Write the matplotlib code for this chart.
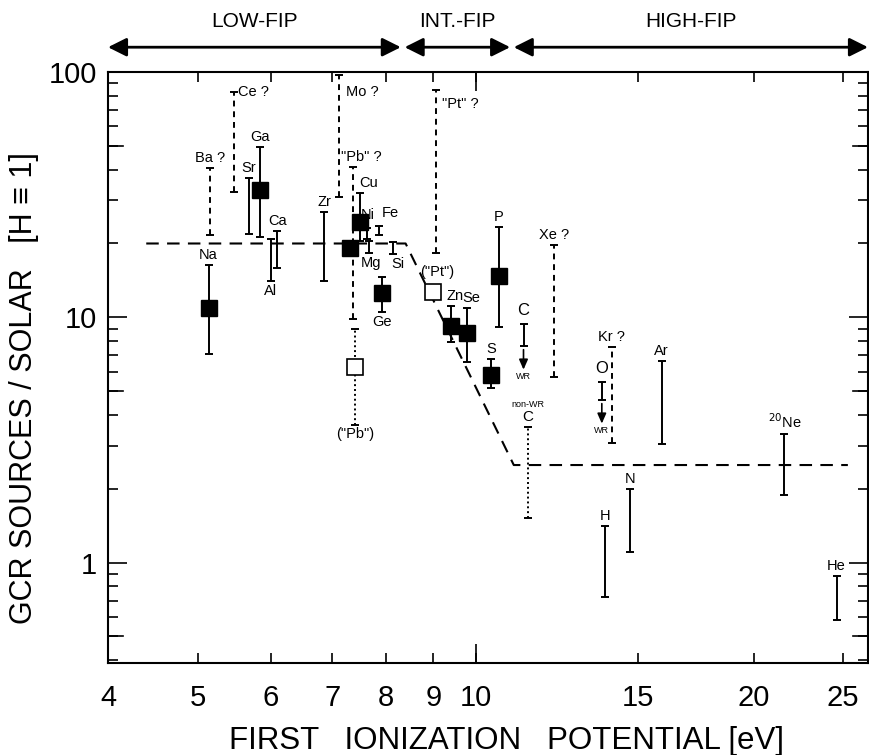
import numpy as np
import matplotlib
matplotlib.use("Agg")
import matplotlib.pyplot as plt
from matplotlib.ticker import FixedLocator, FixedFormatter, NullFormatter

plt.rcParams["font.family"] = ["Liberation Sans", "DejaVu Sans"]

# ---- data (FIP in eV, GCR source / solar) ----
# filled squares with error bars
sq_names = ["Na", "Ga", "Cu", "", "Ge", "Zn", "Se", "P", "S"]
sq_x  = [5.14, 5.85, 7.50, 7.32, 7.91, 9.40, 9.78, 10.6, 10.4]
sq_y  = [10.9, 33.0, 24.5, 19.2, 12.6, 9.2, 8.6, 14.8, 5.83]
sq_lo = [7.1, 21.3, 20.5, 19.2, 10.5, 7.9, 6.6, 9.15, 5.16]
sq_hi = [16.4, 49.5, 32.1, 19.2, 14.6, 11.1, 10.9, 23.4, 6.78]

# plain solid error bars
sol_names = ["Sr", "Al", "Ca", "Zr", "Ni", "Fe", "Mg", "Si", "Ar", "H", "N", "$^{20}$Ne", "He"]
sol_x  = [5.68, 6.00, 6.10, 6.86, 7.62, 7.87, 7.67, 8.15, 15.9, 13.8, 14.7, 21.6, 24.6]
sol_lo = [21.9, 14.1, 15.9, 14.1, 20.8, 21.7, 18.3, 18.1, 3.05, 0.727, 1.10, 1.89, 0.586]
sol_hi = [37.0, 20.9, 22.5, 26.9, 23.2, 23.6, 20.5, 20.3, 6.65, 1.415, 2.0, 3.35, 0.885]

# uncertain (dashed) ranges
dash_names = ["Ba ?", "Ce ?", "Mo ?", '"Pb" ?', '"Pt" ?', "Xe ?", "Kr ?"]
dash_x  = [5.16, 5.47, 7.12, 7.36, 9.05, 12.15, 14.04]
dash_lo = [21.7, 32.4, 31.0, 9.8, 18.3, 5.72, 3.08]
dash_hi = [40.6, 83.0, 97.0, 41.0, 84.5, 19.7, 7.6]

# open squares
open_names = ['("Pb")', '("Pt")']
open_x  = [7.41, 9.00]
open_y  = [6.3, 12.7]
open_lo = [3.65, 12.7]
open_hi = [9.0, 12.7]

# WR (Wolf-Rayet) corrected values
wr_names = ["C", "O"]
wr_x  = [11.27, 13.7]
wr_lo = [7.65, 4.61]
wr_hi = [9.4, 5.46]

# non-WR carbon (dotted)
nwr_x, nwr_lo, nwr_hi = 11.4, 1.52, 3.58

# FIP model line
model_x = [4.4, 8.4, 11.0, 25.3]
model_y = [20.0, 20.0, 2.5, 2.5]

# FIP bands on top
band_names = ["LOW-FIP", "INT.-FIP", "HIGH-FIP"]
band_lo = [4.0, 8.38, 11.0]
band_hi = [8.3, 10.9, 26.6]

xticks = [4, 5, 6, 7, 8, 9, 10, 15, 20, 25]

fig = plt.figure(figsize=(8.69, 7.55), dpi=100)
ax = fig.add_axes([0.1243, 0.1219, 0.8745, 0.7827])
ax.set_xscale("log")
ax.set_yscale("log")
ax.set_xlim(4, 26.6)
ax.set_ylim(0.39, 100)

lw = 1.4
fs = 10.5


def ebar(x, lo, hi, ls="-"):
    ax.plot([x, x], [lo, hi], color="k", lw=lw, ls=ls, solid_capstyle="butt")
    ax.plot([x, x], [lo, hi], ls="none", marker="_", ms=6, mew=lw, color="k")


def lab(txt, x, y, where, dx=0, dy=0, size=fs):
    if where == "a":
        off, ha, va = (dx, 2 + dy), "center", "bottom"
    elif where == "b":
        off, ha, va = (dx, -2 + dy), "center", "top"
    else:
        off, ha, va = (3 + dx, dy), "left", "center"
    ax.annotate(txt, (x, y), xytext=off, textcoords="offset points",
                ha=ha, va=va, fontsize=size)


# model
ax.plot(model_x, model_y, color="k", lw=1.5, ls=(0, (6, 4)))

# solid bars
sol_pos = ["a", "b", "a", "a", "a", "a", "b", "b", "a", "a", "a", "a", "a"]
sol_dx = {"Fe": 8, "Mg": 1, "Si": 3, "Ni": 1}
for n, x, lo, hi, p in zip(sol_names, sol_x, sol_lo, sol_hi, sol_pos):
    ebar(x, lo, hi)
    lab(n, x, hi if p == "a" else lo, p, dx=sol_dx.get(n, 0),
        dy=2 if n in ("Ni", "Fe") else 0)

# dashed bars
dash_pos = ["a", "r", "r", "a", "r", "a", "a"]
dash_off = {"Mo ?": (2, -12), '"Pt" ?': (2, -10), '"Pb" ?': (6, 0)}
for n, x, lo, hi, p in zip(dash_names, dash_x, dash_lo, dash_hi, dash_pos):
    ebar(x, lo, hi, ls=(0, (3, 2.5)))
    ddx, ddy = dash_off.get(n, (0, 0))
    lab(n, x, hi, p, dx=ddx, dy=ddy)

# filled squares
sq_pos = ["a", "a", "a", "", "b", "a", "a", "a", "a"]
sq_dx = {"Cu": 6, "Zn": 3, "Se": 3}
for n, x, y, lo, hi, p in zip(sq_names, sq_x, sq_y, sq_lo, sq_hi, sq_pos):
    if hi > lo:
        ebar(x, lo, hi)
    ax.plot(x, y, marker="s", ms=11.5, color="k", ls="none", zorder=3)
    if n:
        lab(n, x, hi if p == "a" else lo, p, dx=sq_dx.get(n, 0))

# open squares
for n, x, y, lo, hi in zip(open_names, open_x, open_y, open_lo, open_hi):
    if hi > lo:
        ebar(x, lo, hi, ls=(0, (1, 1.5)))
        lab(n, x, lo, "b")
    else:
        ax.annotate(n, (x, y), xytext=(3, 9), textcoords="offset points",
                    ha="center", va="bottom", fontsize=fs)
    ax.plot(x, y, marker="s", ms=11.5, mfc="white", mec="k", mew=1.2,
            ls="none", zorder=3)

# WR corrected C and O
for n, x, lo, hi in zip(wr_names, wr_x, wr_lo, wr_hi):
    ebar(x, lo, hi)
    lab(n, x, hi, "a", dy=2, size=12)
    ax.annotate("", xy=(x, lo * 0.80), xytext=(x, lo * 0.965),
                arrowprops=dict(arrowstyle="-|>,head_length=0.5,head_width=0.22",
                                mutation_scale=12, color="k", lw=1.2,
                                shrinkA=0, shrinkB=0))
    ax.annotate("WR", (x, lo), xytext=(0, -19), textcoords="offset points",
                ha="center", va="top", fontsize=6.5)

# non-WR carbon
ebar(nwr_x, nwr_lo, nwr_hi, ls=(0, (1, 1.5)))
lab("C", nwr_x, nwr_hi, "a", dy=0, size=11)
ax.annotate("non-WR", (nwr_x, nwr_hi), xytext=(0, 13), textcoords="offset points",
            ha="center", va="bottom", fontsize=6.5)

# FIP band arrows
for n, a, b in zip(band_names, band_lo, band_hi):
    ax.annotate("", xy=(b, 1.042), xytext=(a, 1.042),
                xycoords=("data", "axes fraction"), textcoords=("data", "axes fraction"),
                arrowprops=dict(arrowstyle="<|-|>,head_length=0.8,head_width=0.4",
                                mutation_scale=14, color="k", lw=2,
                                shrinkA=0, shrinkB=0))
    ax.text(np.sqrt(a * b), 1.085, n, transform=ax.get_xaxis_transform(),
            ha="center", va="center", fontsize=15)

# ticks
ax.xaxis.set_major_locator(FixedLocator(xticks))
ax.xaxis.set_major_formatter(FixedFormatter([str(t) for t in xticks]))
ax.xaxis.set_minor_locator(FixedLocator([10]))
ax.xaxis.set_minor_formatter(NullFormatter())
ax.xaxis.remove_overlapping_locs = False
ax.tick_params(axis="x", which="major", direction="in", top=True, length=7,
               width=1.2, labelsize=21, pad=15)
ax.tick_params(axis="x", which="minor", direction="in", top=True, length=14,
               width=1.2)

ymaj = [1, 10, 100]
ymin = [m * d for d in (0.1, 1, 10) for m in range(2, 10) if 0.39 <= m * d <= 100]
ax.yaxis.set_major_locator(FixedLocator(ymaj))
ax.yaxis.set_major_formatter(FixedFormatter(["1", "10", "100"]))
ax.yaxis.set_minor_locator(FixedLocator(ymin))
ax.yaxis.set_minor_formatter(NullFormatter())
ax.tick_params(axis="y", which="major", direction="in", right=True, length=14,
               width=1.2, labelsize=21, pad=8)
ax.tick_params(axis="y", which="minor", direction="in", right=True, length=7,
               width=1.2)
# medium ticks at 0.5, 5, 50
for v in (0.5, 5, 50):
    ax.plot([0, 0.02], [v, v], transform=ax.get_yaxis_transform(), color="k",
            lw=1.2, clip_on=False)
    ax.plot([1, 0.98], [v, v], transform=ax.get_yaxis_transform(), color="k",
            lw=1.2, clip_on=False)

for s in ax.spines.values():
    s.set_linewidth(1.5)

ax.set_xlabel("FIRST   IONIZATION   POTENTIAL [eV]", fontsize=22.5, va="top")
ax.xaxis.set_label_coords(0.524, -0.106)
ax.set_ylabel("GCR SOURCES / SOLAR   [H \u2261 1]", fontsize=22)
ax.yaxis.set_label_coords(-0.091, 0.465)

fig.savefig("out.png", dpi=100)
